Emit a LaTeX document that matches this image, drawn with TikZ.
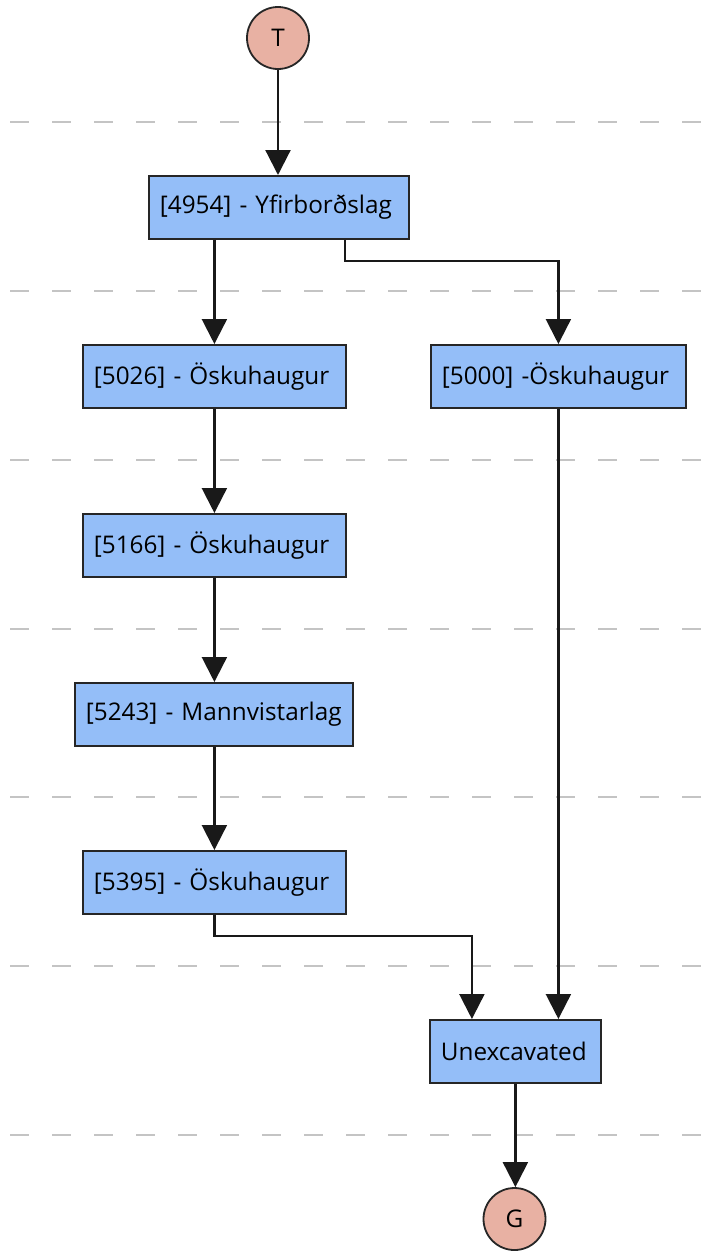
\documentclass[tikz,border=0pt]{standalone}
\usepackage{fontspec}
\setmainfont{Open Sans}
\usetikzlibrary{arrows.meta}
\definecolor{boxblue}{RGB}{148,190,248}
\definecolor{nodepink}{RGB}{232,177,163}
\definecolor{sepgray}{RGB}{196,196,196}
\begin{document}
\begin{tikzpicture}[x=1pt,y=-1pt,
  box/.style={draw=black!85, line width=1.8pt, fill=boxblue, minimum height=63pt,
    inner xsep=11pt, inner ysep=0pt, align=left, anchor=north west,
    font=\fontsize{24.3}{29}\selectfont},
  term/.style={circle, draw=black!85, line width=1.8pt, fill=nodepink, minimum size=62pt,
    inner sep=0pt, font=\fontsize{24.3}{29}\selectfont},
  arr/.style={line width=2.2pt, draw=black!90, -{Triangle[width=25pt,length=25pt]}},
  sep/.style={draw=sepgray, line width=2pt, dash pattern=on 19pt off 23pt}]
\useasboundingbox (0,0) rectangle (719,1251);
\foreach \yy in {122,291,460,629,797,966,1135}
  \draw[sep] (10,\yy) -- (702,\yy);

\node[term] (T) at (278,38) {T};
\node[box, text width=238pt] (b4954) at (148,175) {[4954] - Yfirborðslag};
\node[box, text width=241pt] (b5026) at (82,344) {[5026] - Öskuhaugur};
\node[box, text width=233pt] (b5000) at (430,344) {[5000] -Öskuhaugur};
\node[box, text width=241pt] (b5166) at (82,513) {[5166] - Öskuhaugur};
\node[box, text width=256pt] (b5243) at (74,682) {[5243] - Mannvistarlag};
\node[box, text width=241pt] (b5395) at (82,850) {[5395] - Öskuhaugur};
\node[box, text width=149pt] (bunex) at (429,1019) {Unexcavated};
\node[term] (G) at (514.5,1219) {G};

\draw[arr] (T.south) -- (T.south |- b4954.north);
\draw[arr] (b4954.south -| b5026.north) -- (b5026.north);
\draw[arr] ([xshift=66pt]b4954.south) -- ++(0,21) -| (b5000.north);
\draw[arr] (b5026.south) -- (b5166.north);
\draw[arr] (b5166.south) -- (b5166.south |- b5243.north);
\draw[arr] (b5243.south -| b5395.north) -- (b5395.north);
\draw[arr] (b5395.south) -- ++(0,21) -| ([xshift=-43.5pt]bunex.north);
\draw[arr] (b5000.south) -- (b5000.south |- bunex.north);
\draw[arr] (bunex.south) -- (bunex.south |- G.north);
\end{tikzpicture}
\end{document}
